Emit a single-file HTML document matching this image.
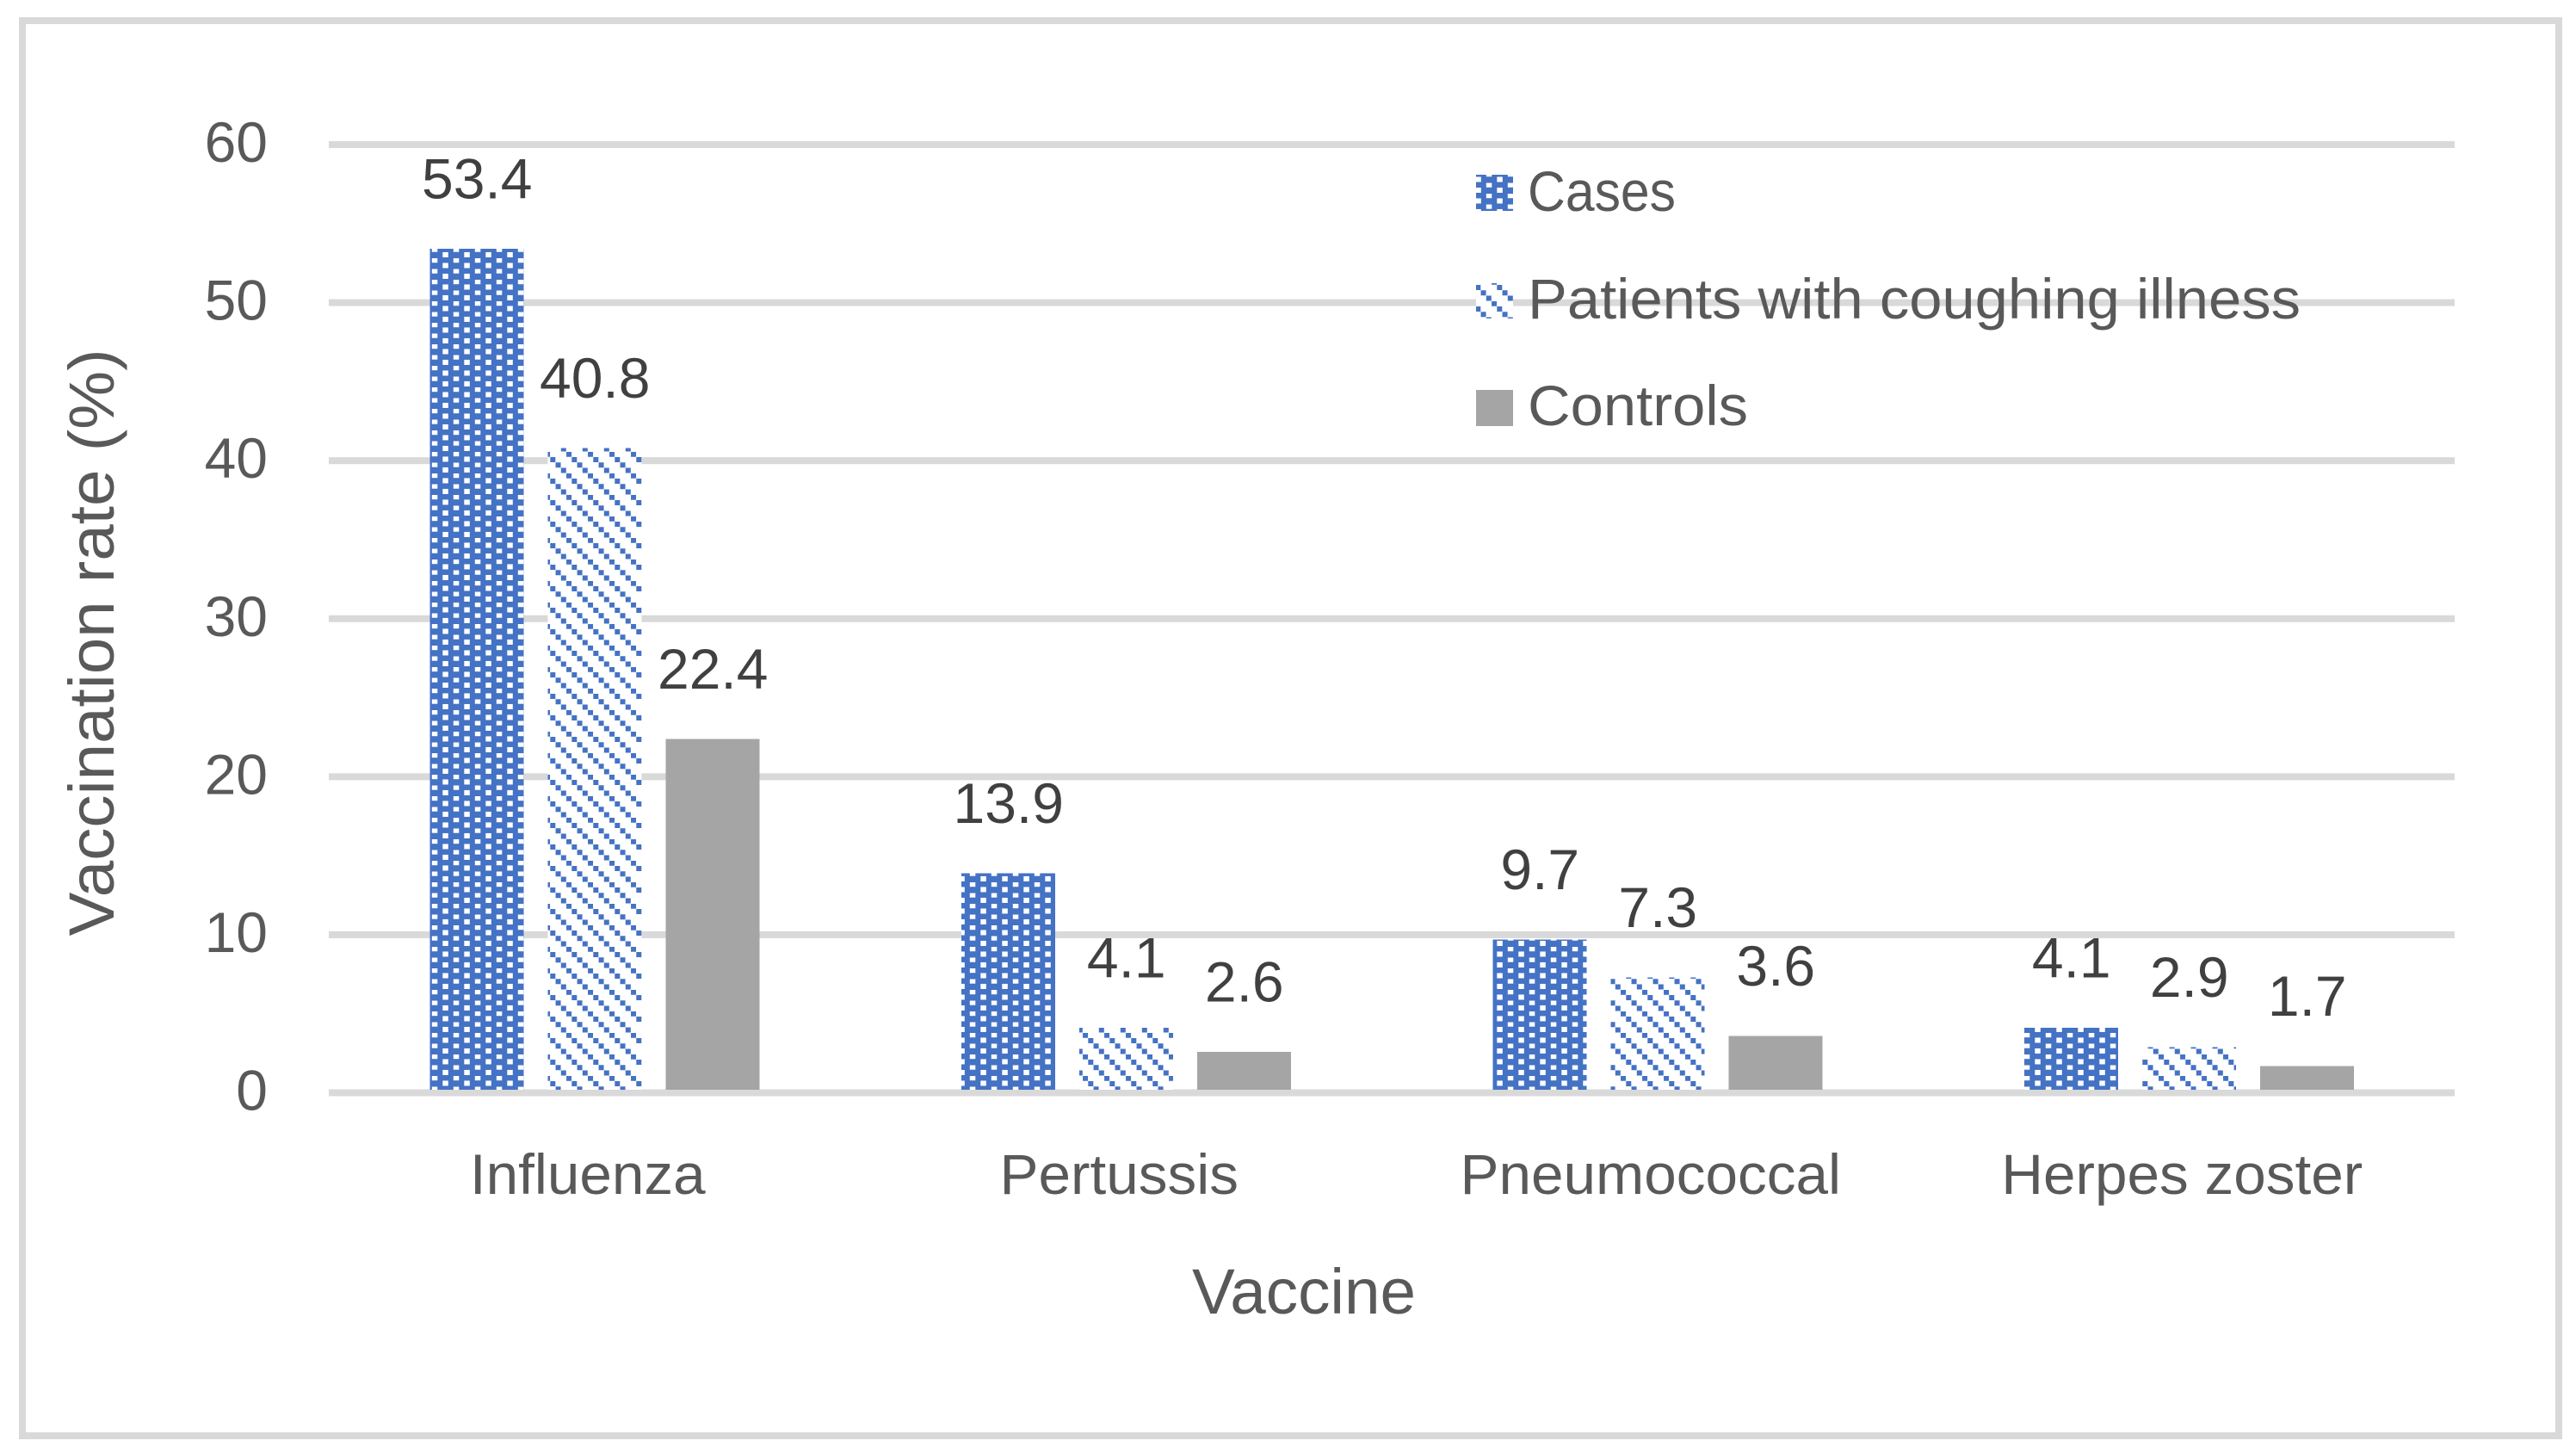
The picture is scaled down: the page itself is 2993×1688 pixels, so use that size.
<!DOCTYPE html>
<html lang="en">
<head>
<meta charset="utf-8">
<title>Vaccination rate by vaccine</title>
<style>
html,body{margin:0;padding:0;background:#fff;width:2993px;height:1688px;overflow:hidden}
svg{display:block}
text{font-family:"Liberation Sans",Arial,sans-serif;font-size:66px;fill:#595959}
.dl{fill:#404040}
.t74{font-size:74px}
</style>
</head>
<body>
<svg id="chart" xmlns="http://www.w3.org/2000/svg" width="2993" height="1688" viewBox="0 0 2993 1688">
  <defs>
    <pattern id="dots" patternUnits="userSpaceOnUse" x="0" y="0" width="25" height="12.5">
      <rect x="0" y="0" width="25" height="12.5" fill="#4472c4"/>
      <rect x="1.8" y="-0.8" width="6.5" height="6" fill="#fff"/>
      <rect x="14.3" y="5.45" width="6.5" height="6" fill="#fff"/>
    </pattern>
    <pattern id="diag" patternUnits="userSpaceOnUse" x="0" y="0" width="25" height="25">
      <rect x="0" y="0" width="25" height="25" fill="#fff"/>
      <rect x="14.3" y="6" width="6" height="6" fill="#4472c4"/>
      <rect x="20.55" y="12.25" width="4.45" height="6" fill="#4472c4"/>
      <rect x="0" y="12.25" width="1.55" height="6" fill="#4472c4"/>
      <rect x="1.8" y="18.5" width="6" height="6" fill="#4472c4"/>
      <rect x="8.05" y="-0.25" width="6" height="6" fill="#4472c4"/>
    </pattern>
  </defs>
  <rect x="0" y="0" width="2993" height="1688" fill="#fff"/>
  <rect x="26" y="24" width="2947" height="1644" fill="#fff" stroke="#d9d9d9" stroke-width="8"/>
  <g id="grid"></g>
  <g id="yticks"></g>
  <g id="bars"></g>
  <g id="labels"></g>
  <g id="xticks"></g>
  <text class="t74" text-anchor="middle" textLength="682" lengthAdjust="spacingAndGlyphs" transform="translate(132 746.5) rotate(-90)">Vaccination rate (%)</text>
  <text class="t74" x="1515" y="1526" text-anchor="middle" textLength="260" lengthAdjust="spacingAndGlyphs">Vaccine</text>
  <g>
    <g>
      <rect x="1715" y="203" width="43" height="42" fill="url(#dots)"/>
      <text x="1775" y="245" textLength="172" lengthAdjust="spacingAndGlyphs">Cases</text>
    </g>
    <g>
      <rect x="1715" y="329" width="43" height="41" fill="url(#diag)"/>
      <text x="1775" y="370" textLength="898" lengthAdjust="spacingAndGlyphs">Patients with coughing illness</text>
    </g>
    <g>
      <rect x="1715" y="453" width="43" height="42" fill="#a5a5a5"/>
      <text x="1775" y="494" textLength="256" lengthAdjust="spacingAndGlyphs">Controls</text>
    </g>
  </g>
</svg>
<script>
const categories = ['Influenza', 'Pertussis', 'Pneumococcal', 'Herpes zoster'];
const cases = [53.4, 13.9, 9.7, 4.1];
const patients = [40.8, 4.1, 7.3, 2.9];
const controls = [22.4, 2.6, 3.6, 1.7];
const yTicks = [0, 10, 20, 30, 40, 50, 60];

const NS = 'http://www.w3.org/2000/svg';
const plotLeft = 382, plotRight = 2852, y0 = 1269.5, y60 = 168, yMax = 60;
const barW = 109, barStep = 137;
const categoryStretch = 1.022;
const series = [
  { key: 'cases', values: cases, fill: 'url(#dots)' },
  { key: 'patients', values: patients, fill: 'url(#diag)' },
  { key: 'controls', values: controls, fill: '#a5a5a5' }
];
function yScale(v) { return y0 - (v / yMax) * (y0 - y60); }
function xCenter(i) { return plotLeft + (i + 0.5) * (plotRight - plotLeft) / categories.length; }
function slug(s) { return s.toLowerCase().replace(/\s+/g, '-'); }
function make(tag, parentId) {
  const el = document.createElementNS(NS, tag);
  document.getElementById(parentId).appendChild(el);
  return el;
}

yTicks.forEach(function (t) {
  const line = make('rect', 'grid');
  
  
  line.setAttribute('x', plotLeft);
  line.setAttribute('y', yScale(t) - 4);
  line.setAttribute('width', plotRight - plotLeft);
  line.setAttribute('height', 8);
  line.setAttribute('fill', '#d9d9d9');
  const label = make('text', 'yticks');
  
  
  label.setAttribute('x', 311);
  label.setAttribute('y', yScale(t) + 20);
  label.setAttribute('text-anchor', 'end');
  label.textContent = String(t);
});

categories.forEach(function (cat, i) {
  series.forEach(function (s, j) {
    const v = s.values[i];
    const cx = xCenter(i) + (j - 1) * barStep;
    const bar = make('rect', 'bars');
    
    
    bar.setAttribute('x', cx - barW / 2);
    bar.setAttribute('y', yScale(v));
    bar.setAttribute('width', barW);
    bar.setAttribute('height', y0 - yScale(v));
    bar.setAttribute('fill', s.fill);
    bar.setAttribute('shape-rendering', 'crispEdges');
    const lab = make('text', 'labels');
    
    
    lab.setAttribute('class', 'dl');
    lab.setAttribute('x', cx + 0.5);
    lab.setAttribute('y', yScale(v) - 58.5);
    lab.setAttribute('text-anchor', 'middle');
    lab.textContent = v.toFixed(1);
  });
  const tick = make('text', 'xticks');
  
  
  tick.setAttribute('x', xCenter(i) - 8);
  tick.setAttribute('y', 1387);
  tick.setAttribute('text-anchor', 'middle');
  tick.textContent = cat;
  tick.setAttribute('textLength', tick.getComputedTextLength() * categoryStretch);
  tick.setAttribute('lengthAdjust', 'spacingAndGlyphs');
});

const axisLine = make('rect', 'bars');


axisLine.setAttribute('x', plotLeft);
axisLine.setAttribute('y', 1266);
axisLine.setAttribute('width', plotRight - plotLeft);
axisLine.setAttribute('height', 7);
axisLine.setAttribute('fill', '#d9d9d9');
</script>
</body>
</html>
